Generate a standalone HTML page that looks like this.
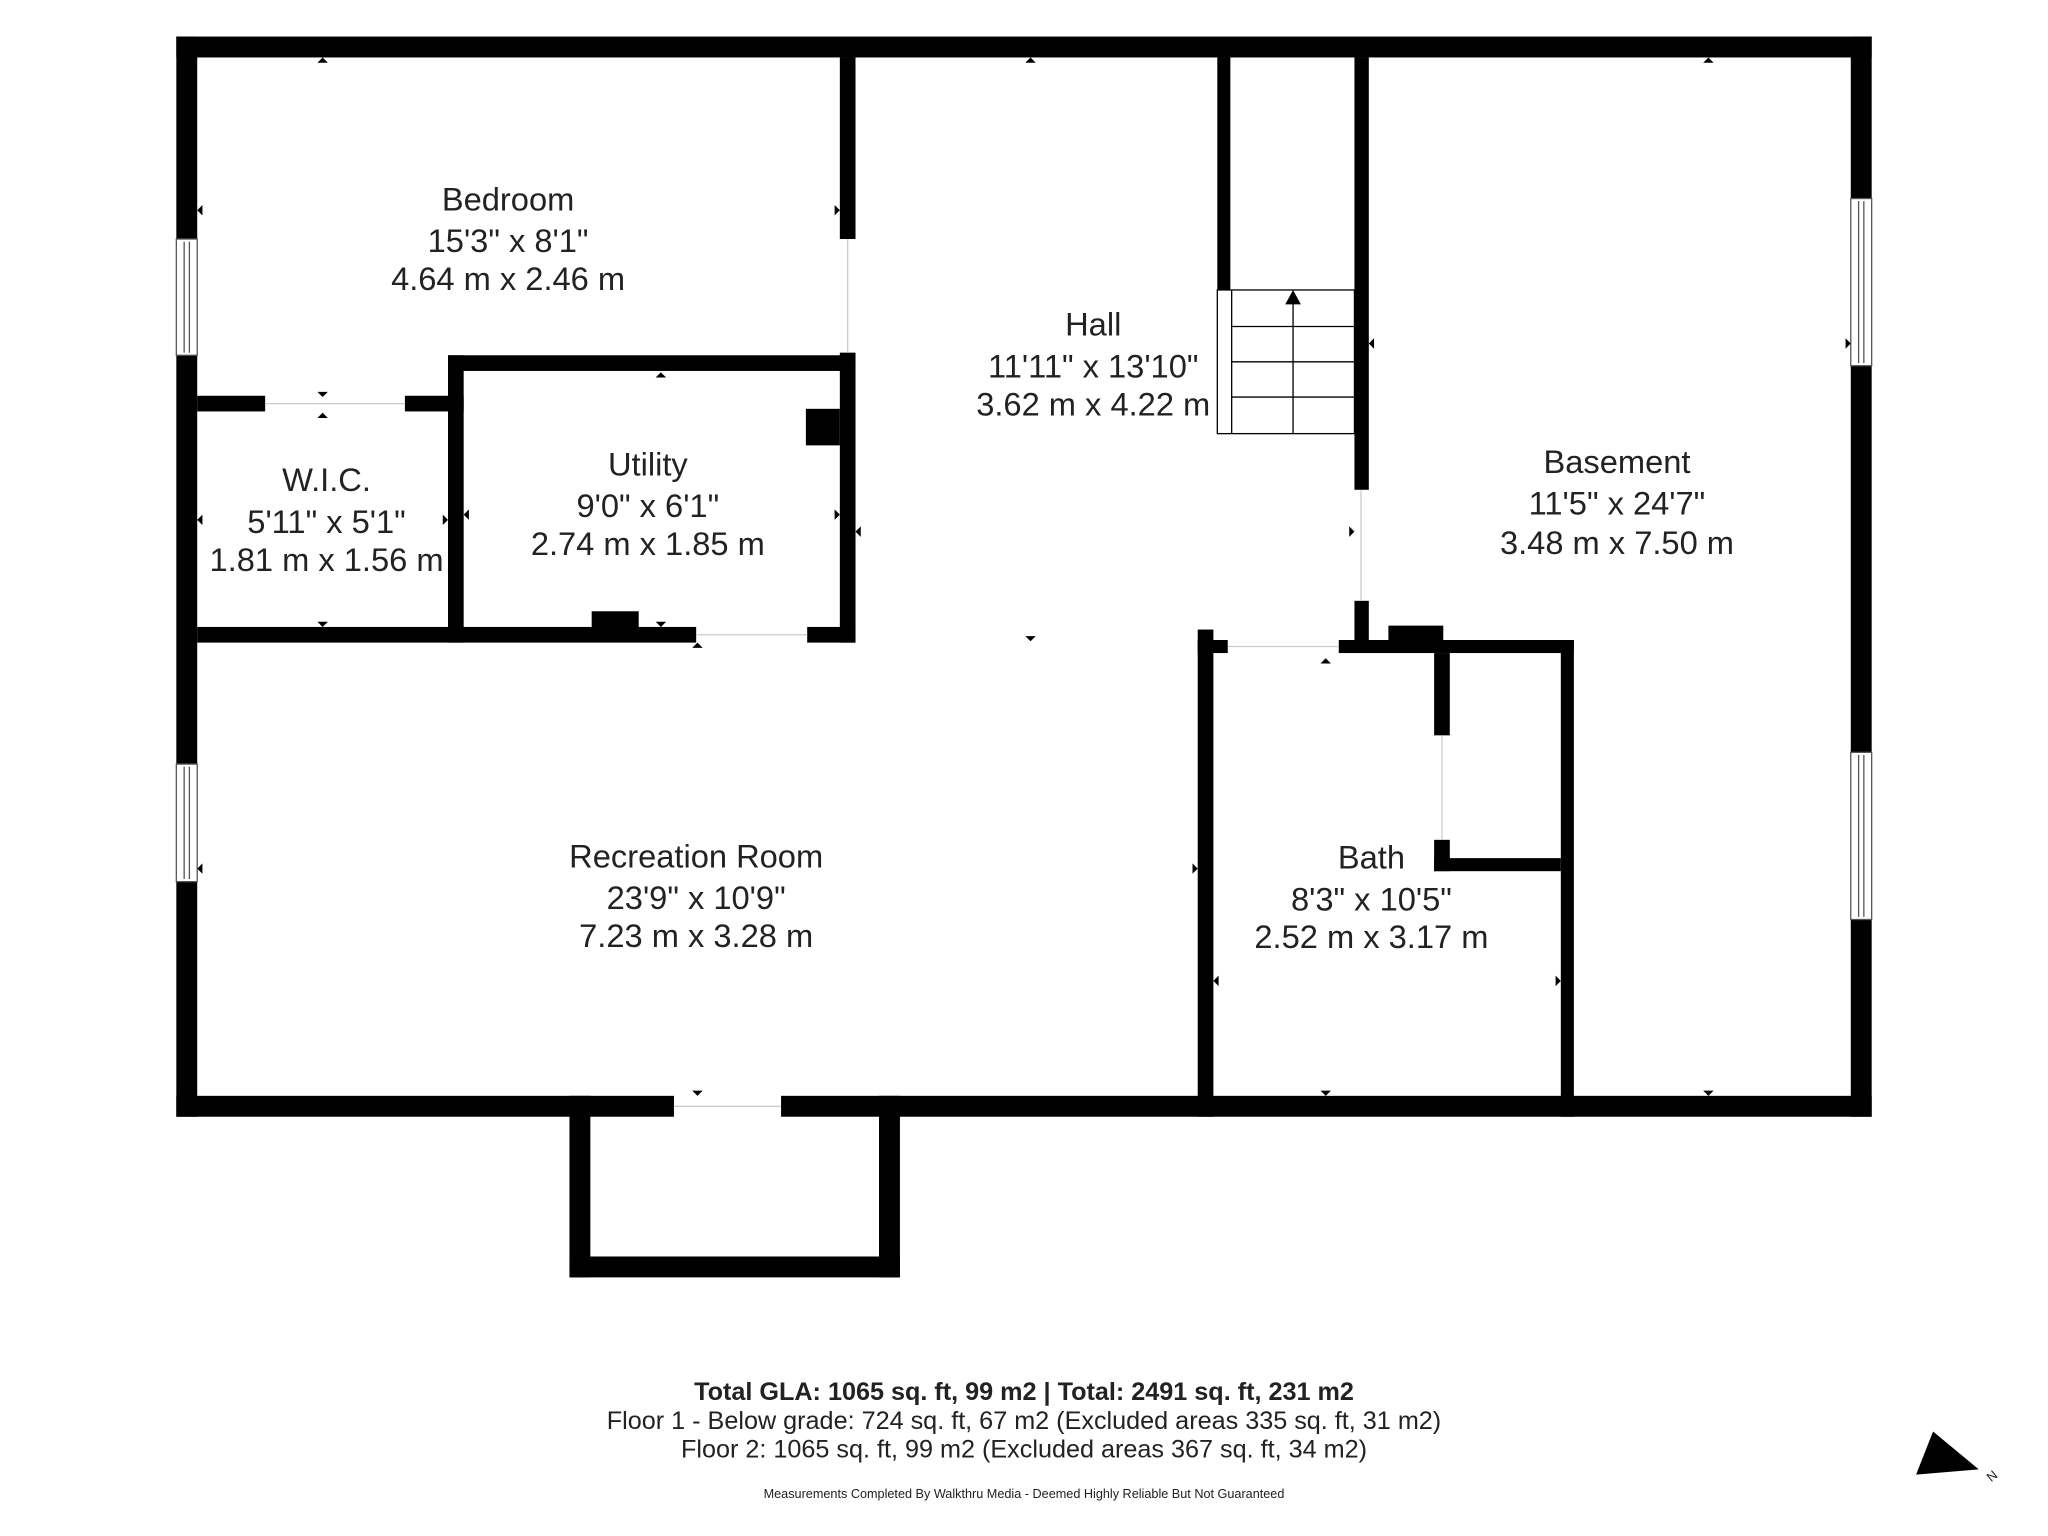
<!DOCTYPE html>
<html><head><meta charset="utf-8"><style>
html,body{margin:0;padding:0;background:#fff;}
svg{display:block;}
text{font-family:"Liberation Sans",sans-serif;fill:#222;}
</style></head><body>
<svg width="2048" height="1536" viewBox="0 0 1568 1176" xmlns="http://www.w3.org/2000/svg">
<rect width="1568" height="1176" fill="#fff"/>
<g fill="#000">
<rect x="135" y="28" width="1298" height="16"/>
<rect x="135" y="28" width="16" height="827"/>
<rect x="1417" y="28" width="16" height="827"/>
<rect x="135" y="839" width="381" height="16"/>
<rect x="598" y="839" width="835" height="16"/>
<rect x="436" y="839" width="16" height="139"/>
<rect x="673" y="839" width="16" height="139"/>
<rect x="436" y="962" width="253" height="16"/>
<rect x="643" y="44" width="12" height="139"/>
<rect x="643" y="270" width="12" height="222"/>
<rect x="343" y="272" width="312" height="12"/>
<rect x="343" y="272" width="12" height="220"/>
<rect x="151" y="303" width="52" height="12"/>
<rect x="310" y="303" width="45" height="12"/>
<rect x="151" y="480" width="382" height="12"/>
<rect x="618" y="480" width="37" height="12"/>
<rect x="617" y="313" width="26" height="28"/>
<rect x="453" y="468" width="36" height="14"/>
<rect x="932" y="44" width="10" height="178"/>
<rect x="1037" y="44" width="11" height="331"/>
<rect x="1037" y="460" width="11" height="36"/>
<rect x="917" y="482" width="12" height="373"/>
<rect x="917" y="490" width="23" height="10"/>
<rect x="1025" y="490" width="180" height="10"/>
<rect x="1063" y="479" width="42" height="14"/>
<rect x="1195" y="490" width="10" height="365"/>
<rect x="1098" y="500" width="12" height="63"/>
<rect x="1098" y="643" width="12" height="24"/>
<rect x="1098" y="657" width="97" height="10"/>
</g>
<g fill="#fff" stroke="#555" stroke-width="1">
<rect x="135" y="183" width="16" height="89"/><line x1="141" y1="185" x2="141" y2="270"/><line x1="145" y1="185" x2="145" y2="270"/>
<rect x="135" y="585" width="16" height="90"/><line x1="141" y1="587" x2="141" y2="673"/><line x1="145" y1="587" x2="145" y2="673"/>
<rect x="1417" y="152" width="16" height="128"/><line x1="1423" y1="154" x2="1423" y2="278"/><line x1="1427" y1="154" x2="1427" y2="278"/>
<rect x="1417" y="576" width="16" height="128"/><line x1="1423" y1="578" x2="1423" y2="702"/><line x1="1427" y1="578" x2="1427" y2="702"/>
</g>
<g stroke="#ccc" stroke-width="1" fill="none">
<line x1="649" y1="183" x2="649" y2="270"/>
<line x1="203" y1="309" x2="310" y2="309"/>
<line x1="533" y1="486" x2="618" y2="486"/>
<line x1="516" y1="847" x2="598" y2="847"/>
<line x1="1042" y1="375" x2="1042" y2="460"/>
<line x1="940" y1="495" x2="1025" y2="495"/>
<line x1="1104" y1="563" x2="1104" y2="643"/>
</g>
<g stroke="#000" stroke-width="1" fill="none">
<rect x="932" y="222" width="105" height="110"/>
<line x1="943" y1="222" x2="943" y2="332"/>
<line x1="943" y1="250" x2="1037" y2="250"/>
<line x1="943" y1="277" x2="1037" y2="277"/>
<line x1="943" y1="304" x2="1037" y2="304"/>
<line x1="990" y1="232" x2="990" y2="332"/>
</g>
<polygon points="990,222 984,233 996,233" fill="#000"/>
<g fill="#000">
<polygon points="243,48 251,48 247,44"/><polygon points="785,48 793,48 789,44"/><polygon points="1304,48 1312,48 1308,44"/>
<polygon points="155,157 155,165 151,161"/><polygon points="639,157 639,165 643,161"/>
<polygon points="243,300 251,300 247,304"/><polygon points="243,320 251,320 247,316"/><polygon points="502,289 510,289 506,285"/>
<polygon points="155,394 155,402 151,398"/><polygon points="339,394 339,402 343,398"/><polygon points="359,390 359,398 355,394"/><polygon points="639,390 639,398 643,394"/><polygon points="659,403 659,411 655,407"/>
<polygon points="243,476 251,476 247,480"/><polygon points="502,476 510,476 506,480"/><polygon points="530,496 538,496 534,492"/>
<polygon points="785,487 793,487 789,491"/><polygon points="1052,259 1052,267 1048,263"/><polygon points="1033,403 1033,411 1037,407"/><polygon points="1413,259 1413,267 1417,263"/>
<polygon points="155,661 155,669 151,665"/><polygon points="913,661 913,669 917,665"/><polygon points="1011,508 1019,508 1015,504"/>
<polygon points="933,747 933,755 929,751"/><polygon points="1191,747 1191,755 1195,751"/>
<polygon points="530,835 538,835 534,839"/><polygon points="1011,835 1019,835 1015,839"/><polygon points="1304,835 1312,835 1308,839"/>
</g>
<g font-size="25" text-anchor="middle">
<text x="389" y="161">Bedroom</text><text x="389" y="193">15'3" x 8'1"</text><text x="389" y="222">4.64 m x 2.46 m</text>
<text x="837" y="257">Hall</text><text x="837" y="289">11'11" x 13'10"</text><text x="837" y="318">3.62 m x 4.22 m</text>
<text x="250" y="376">W.I.C.</text><text x="250" y="408">5'11" x 5'1"</text><text x="250" y="437">1.81 m x 1.56 m</text>
<text x="496" y="364">Utility</text><text x="496" y="396">9'0" x 6'1"</text><text x="496" y="425">2.74 m x 1.85 m</text>
<text x="1238" y="362">Basement</text><text x="1238" y="394">11'5" x 24'7"</text><text x="1238" y="424">3.48 m x 7.50 m</text>
<text x="533" y="664">Recreation Room</text><text x="533" y="696">23'9" x 10'9"</text><text x="533" y="725">7.23 m x 3.28 m</text>
<text x="1050" y="665">Bath</text><text x="1050" y="697">8'3" x 10'5"</text><text x="1050" y="726">2.52 m x 3.17 m</text>
</g>
<g text-anchor="middle" font-size="19.3">
<text x="784" y="1072" font-weight="bold">Total GLA: 1065 sq. ft, 99 m2 | Total: 2491 sq. ft, 231 m2</text>
<text x="784" y="1094">Floor 1 - Below grade: 724 sq. ft, 67 m2 (Excluded areas 335 sq. ft, 31 m2)</text>
<text x="784" y="1116">Floor 2: 1065 sq. ft, 99 m2 (Excluded areas 367 sq. ft, 34 m2)</text>
<text x="784" y="1147" font-size="9.7">Measurements Completed By Walkthru Media - Deemed Highly Reliable But Not Guaranteed</text>
</g>
<polygon points="1480,1096 1515,1125 1467,1129" fill="#000"/>
<text x="1522" y="1136" font-size="10" transform="rotate(-40 1522 1132)">N</text>
</svg>
</body></html>
